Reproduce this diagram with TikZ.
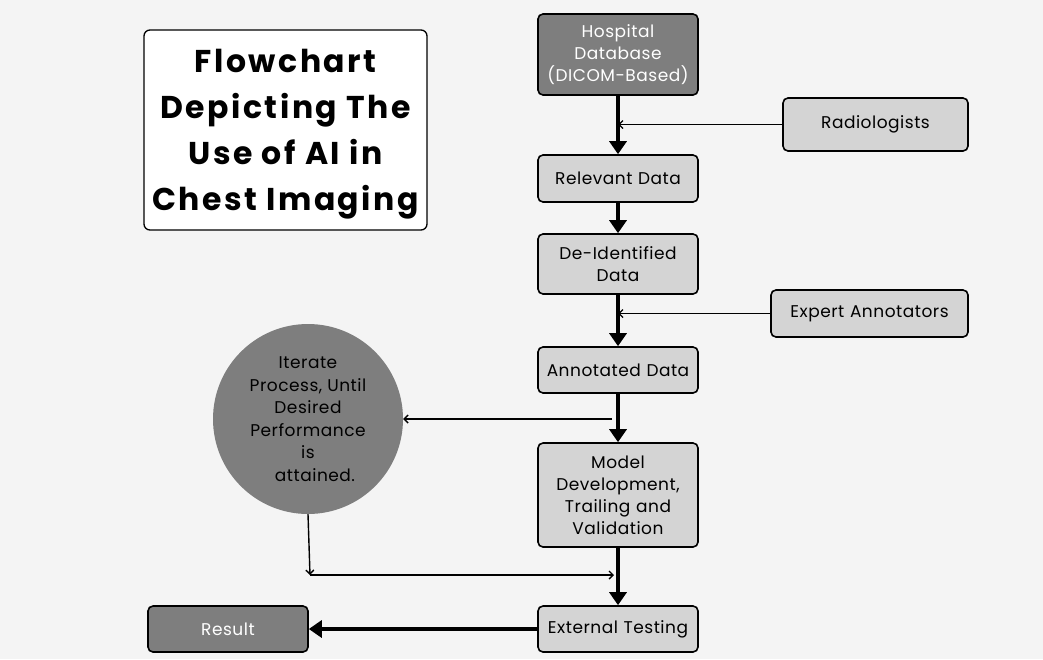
\documentclass[tikz,border=0pt]{standalone}
\usepackage{fontspec}
\setmainfont{Poppins}[LetterSpace=3]
\newfontfamily\headfont{Poppins}[LetterSpace=8]
\usetikzlibrary{arrows.meta, positioning, calc}

\definecolor{pagegray}{HTML}{F4F4F4}
\definecolor{boxdark}{HTML}{7E7E7E}
\definecolor{boxlight}{HTML}{D4D4D4}

\begin{document}
\begin{tikzpicture}[
    x=1pt, y=-1pt,
    box/.style={rectangle, draw=black, line width=1.6pt, rounded corners=5pt, fill=boxlight, minimum width=160pt, text width=155pt, align=center, inner sep=2pt, font=\fontsize{17}{22}\selectfont},
    dark_box/.style={box, fill=boxdark, text=white},
    title_box/.style={rectangle, draw=black, line width=1.3pt, rounded corners=6pt, fill=white, minimum width=283pt, minimum height=200pt, inner sep=0pt, align=center, font=\headfont\fontsize{31.5}{46}\selectfont\bfseries},
    loop_circle/.style={circle, fill=boxdark, minimum size=190pt, align=center, inner sep=0pt, font=\fontsize{17}{22.5}\selectfont},
    main_arrow/.style={-{Triangle[length=13pt, width=17pt]}, line width=3.5pt},
    side_arrow/.style={-{Straight Barb[length=4pt, width=8pt]}, line width=1.4pt}
]
    % Page
    \fill[pagegray] (0,0) rectangle (1043,659);

    % Title
    \node[title_box] (title) at (285.5,130) {\parbox{275pt}{\centering\vspace*{9pt}Flowchart\\Depicting The\\Use of AI in\\Chest Imaging}};

    % Main column
    \node[dark_box, minimum height=81pt] (hosp) at (618,54.5) {Hospital\\Database\\(DICOM-Based)};
    \node[box, minimum height=47pt] (rel) at (618,178.5) {Relevant Data};
    \node[box, minimum height=60pt] (deid) at (618,264) {De-Identified\\Data};
    \node[box, minimum height=46pt] (ann) at (618,370) {Annotated Data};
    \node[box, minimum height=104pt] (model) at (618,495) {Model\\Development,\\Trailing and\\Validation};
    \node[box, minimum height=46pt] (ext) at (618,629) {External Testing};

    % Side inputs
    \node[box, minimum width=185pt, text width=175pt, minimum height=53pt] (rad) at (875.5,124.5) {Radiologists};
    \node[box, minimum width=197pt, text width=187pt, minimum height=47pt] (expert) at (869.5,313.5) {Expert Annotators};

    % Feedback loop and output
    \node[loop_circle] (iter) at (308,419) {Iterate\\Process, Until\\Desired\\Performance\\is\\\hspace*{14pt}attained.};
    \node[dark_box, minimum height=46pt] (res) at (228,629) {Result};
    \coordinate (loopcorner) at (310,575);

    % Main flow
    \draw[main_arrow] (hosp) -- (rel);
    \draw[main_arrow] (rel) -- (deid);
    \draw[main_arrow] (deid) -- (ann);
    \draw[main_arrow] (ann) -- (model);
    \draw[main_arrow] (model) -- (ext);
    \draw[main_arrow] (ext) -- (res);

    % Inputs joining the flow
    \draw[side_arrow] (rad.west) -- (rad.west -| hosp.south);
    \draw[side_arrow] (expert.west) -- (expert.west -| deid.south);

    % Iteration loop
    \draw[side_arrow] ($(iter.east -| ann.south)+(-6,0)$) -- (iter.east);
    \draw[side_arrow] (iter.south) -- (loopcorner);
    \draw[side_arrow] (loopcorner) -- ($(loopcorner -| model.south)+(-4,0)$);
\end{tikzpicture}
\end{document}
